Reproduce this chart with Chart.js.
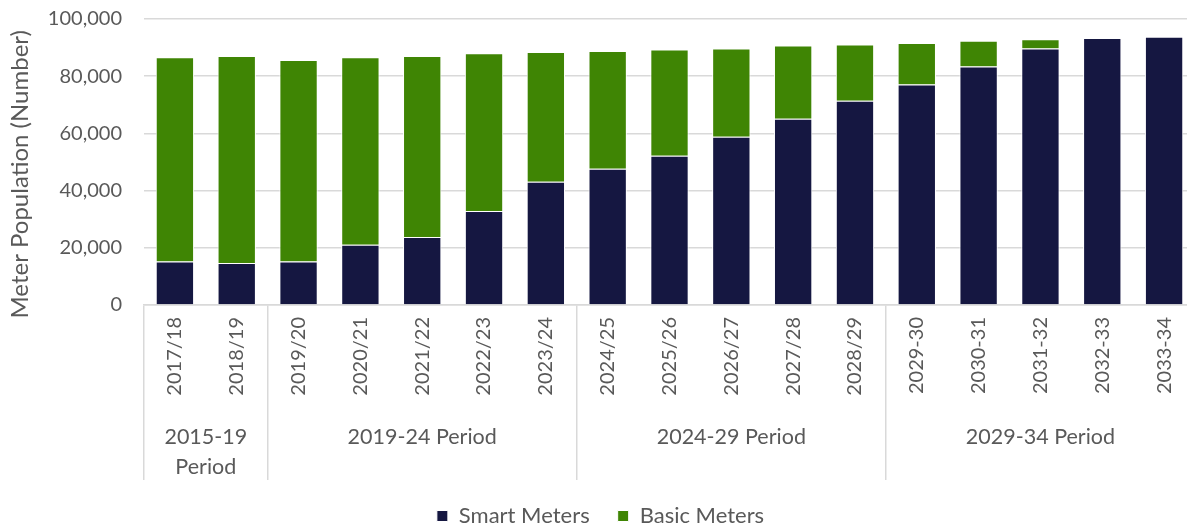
<!DOCTYPE html>
<html>
<head>
<meta charset="utf-8">
<script src="https://cdn.jsdelivr.net/npm/chart.js@4.4.0/dist/chart.umd.min.js"></script>
<style>
  html, body { margin: 0; padding: 0; background: #fff; overflow: hidden; }
  #wrap { width: 1196px; height: 529px; }
</style>
</head>
<body>
<div id="wrap"><canvas id="meterChart"></canvas></div>
<script>
// data
const years = [
    '2017/18', '2018/19', '2019/20', '2020/21', '2021/22', '2022/23', '2023/24',
    '2024/25', '2025/26', '2026/27', '2027/28', '2028/29',
    '2029-30', '2030-31', '2031-32', '2032-33', '2033-34'
];
const smartMeters = [15200, 14700, 15200, 21100, 23800, 32900, 43100, 47600, 52200,
    58800, 65100, 71400, 77100, 83400, 89700, 93400, 93800];
const basicMeters = [71400, 72400, 70500, 65500, 63300, 55100, 45400, 41200, 37100,
    30900, 25600, 19700, 14500, 9000, 3200, 0, 0];
const periods = [['2015-19', 'Period'], '2019-24 Period', '2024-29 Period', '2029-34 Period'];
const periodCentres = [0.5, 4, 9, 14];
const periodStarts = [0, 2, 7, 12];
const yTicks = [0, 20000, 40000, 60000, 80000, 100000];

const textColor = '#595959';
const gridColor = '#d9d9d9';
const fontName = 'Lato';

// chart
const ctx = document.getElementById('meterChart').getContext('2d');
const meterChart = new Chart(ctx, {
    type: 'bar',
    data: {
        labels: years,
        datasets: [{
            label: 'Smart Meters',
            data: smartMeters,
            backgroundColor: '#151741',
            borderColor: '#ffffff',
            borderWidth: 1,
            barPercentage: 0.62,
            categoryPercentage: 1
        }, {
            label: 'Basic Meters',
            data: basicMeters,
            backgroundColor: '#3f8504',
            borderColor: '#ffffff',
            borderWidth: 1,
            barPercentage: 0.62,
            categoryPercentage: 1
        }]
    },
    options: {
        responsive: true,
        maintainAspectRatio: false,
        animation: false,
        layout: { padding: { top: 19, left: 6, right: 1, bottom: -8 } },
        plugins: {
            tooltip: { enabled: false },
            legend: {
                position: 'bottom',
                labels: {
                    color: textColor,
                    font: { family: fontName, size: 22 },
                    boxWidth: 11,
                    boxHeight: 11,
                    padding: 28
                }
            }
        },
        scales: {
            x: {
                stacked: true,
                weight: 0,
                border: { display: true, color: gridColor, width: 1.5 },
                grid: {
                    drawOnChartArea: false,
                    drawTicks: true,
                    tickLength: 175,
                    lineWidth: 1.5,
                    color: function (c) {
                        return periodStarts.includes(c.index) ? gridColor : 'rgba(0,0,0,0)';
                    }
                },
                ticks: {
                    color: textColor,
                    font: { family: fontName, size: 20 },
                    maxRotation: 90,
                    minRotation: 90,
                    autoSkip: false,
                    padding: -163
                },
                afterFit: function (s) { s.height = 110; }
            },
            x2: {
                type: 'linear',
                position: 'bottom',
                weight: 1,
                offset: false,
                min: -0.5,
                max: 16.5,
                border: { display: false },
                grid: { display: false, offset: false },
                afterBuildTicks: function (s) {
                    s.ticks = periodCentres.map(v => ({ value: v }));
                },
                ticks: {
                    color: textColor,
                    font: { family: fontName, size: 21.5, lineHeight: 1.4 },
                    maxRotation: 0,
                    autoSkip: false,
                    padding: -1,
                    callback: function (v, i) { return periods[i]; }
                },
                afterFit: function (s) { s.height = 62; }
            },
            y: {
                stacked: true,
                min: 0,
                max: 100000,
                border: { display: false },
                grid: {
                    color: gridColor,
                    lineWidth: 1.5,
                    drawTicks: true,
                    tickLength: 22,
                    tickColor: 'rgba(0,0,0,0)'
                },
                afterBuildTicks: function (s) {
                    s.ticks = yTicks.map(v => ({ value: v }));
                },
                ticks: {
                    color: textColor,
                    font: { family: fontName, size: 20 },
                    padding: 0,
                    callback: function (v) { return v.toLocaleString('en-US'); }
                },
                title: {
                    display: true,
                    // trailing spaces nudge the title down a little, like the original
                    text: 'Meter Population (Number)    ',
                    color: textColor,
                    font: { family: fontName, size: 24 },
                    padding: { top: 0, bottom: 4 }
                },
                afterFit: function (s) { s.width = 138; }
            }
        }
    }
});
</script>
</body>
</html>
